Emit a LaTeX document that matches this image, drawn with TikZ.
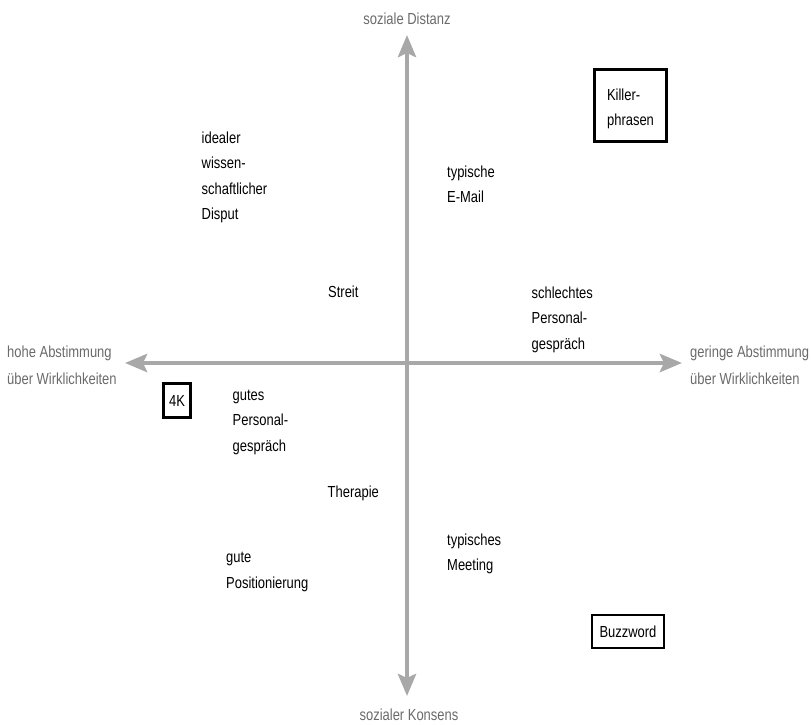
\documentclass[tikz,border=0pt]{standalone}
\usepackage{fontspec}
\setmainfont[FakeStretch=0.81]{Liberation Sans}
\usepackage{xcolor}
\usepackage{tikz}
\usetikzlibrary{arrows.meta}

\definecolor{axisgray}{HTML}{A8A8A8}
\definecolor{labelgray}{HTML}{6A6A6A}

\tikzset{
  axisline/.style={axisgray, line width=4.5pt,
    {Stealth[length=22pt,width=18pt,inset=4pt]}-{Stealth[length=22pt,width=18pt,inset=4pt]}},
  axislabel/.style={labelgray, inner sep=0pt, align=left,
    font=\fontsize{16}{27}\selectfont},
  item/.style={inner sep=0pt, align=left, anchor=base west,
    font=\fontsize{16}{25.5}\selectfont},
  itembox/.style={draw, line width=2.4pt, align=left, inner sep=0pt,
    font=\fontsize{16}{25.5}\selectfont}
}

\begin{document}
\begin{tikzpicture}[x=1pt,y=-1pt]
  \useasboundingbox (0,0) rectangle (811,724);
  % axes
  \coordinate (north) at (407,35);
  \coordinate (south) at (407,696);
  \coordinate (west) at (125,363);
  \coordinate (east) at (682,363);
  \draw[axisline] (south) -- (north);
  \draw[axisline] (west) -- (east);
  \node[axislabel, anchor=base] (distanz) at (407,24) {soziale Distanz};
  \node[axislabel, anchor=base] (konsens) at (409,720) {sozialer Konsens};
  % multi-line nodes: base = baseline of the last line
  \node[axislabel, anchor=base west] (hohe) at (7,384) {hohe Abstimmung\\über Wirklichkeiten};
  \node[axislabel, anchor=base west] (geringe) at (690,384) {geringe Abstimmung\\über Wirklichkeiten};
  % upper half
  \node[item] (disput) at (201.5,219.5) {idealer\\wissen-\\schaftlicher\\Disput};
  \node[item] (email) at (447,202.5) {typische\\E-Mail};
  \node[item] (streit) at (328,297) {Streit};
  \node[item] (schlecht) at (531.5,349) {schlechtes\\Personal-\\gespräch};
  \node[itembox, minimum width=72pt, minimum height=72pt] (killer) at (630.5,105.5) {\rule{0pt}{18pt}Killer-\\phrasen};
  % lower half
  \node[itembox, minimum width=27pt, minimum height=34pt, align=center] (vierk) at (177,400.5) {4K};
  \node[item] (gut) at (232.5,451) {gutes\\Personal-\\gespräch};
  \node[item] (therapie) at (327.5,497) {Therapie};
  \node[item] (position) at (226,588) {gute\\Positionierung};
  \node[item] (meeting) at (447,570.5) {typisches\\Meeting};
  \node[itembox, minimum width=72pt, minimum height=33pt, align=center] (buzz) at (628,631.5) {Buzzword};
\end{tikzpicture}
\end{document}
